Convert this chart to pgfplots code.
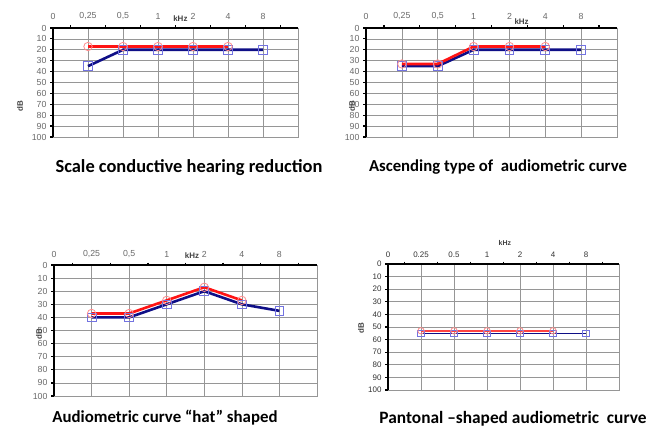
\documentclass[border=0pt]{standalone}
\usepackage{fontspec}
\setmainfont{Liberation Sans}
\newfontfamily\titlefont{Carlito}
\usepackage{pgfplots}
\pgfplotsset{compat=1.18}
\definecolor{redl}{RGB}{255,20,20}
\definecolor{redm}{RGB}{255,140,140}
\definecolor{bluel}{RGB}{15,15,135}
\definecolor{bluem}{RGB}{115,115,225}
\definecolor{gridc}{RGB}{150,150,150}
\definecolor{tickc}{RGB}{105,105,105}
\tikzset{lab/.style={font=\fontsize{8}{9}\selectfont\bfseries, text=black!75}}
\pgfplotsset{
  audio/.style={
    scale only axis,
    xmin=0, xmax=7, ymin=0, ymax=100, y dir=reverse,
    xtick={0,...,7}, xticklabels={0,{0,25},{0,5},1,2,4,8,{}},
    ytick={0,10,...,100},
    xticklabel pos=upper,
    xtick pos=right, ytick pos=left,
    grid=major,
    major grid style={gridc, line width=0.7bp},
    axis line style={gridc, line width=0.7bp},
    major x tick style={draw=none},
    minor x tick num=1,
    minor x tick style={black, line width=1.4bp},
    minor tick length=2.5bp,
    major y tick style={black, line width=1.2bp},
    major tick length=3bp,
    tick align=outside,
    tick label style={font=\fontsize{8.8}{10}\selectfont, text=tickc},
    /pgf/number format/assume math mode=true,
    clip=false,
  },
  lineR/.style={redl, line width=2.6bp, mark=none},
  lineB/.style={bluel, line width=2.6bp, mark=none},
  markR/.style={only marks, mark=o, mark size=4.2bp, mark options={draw=redm, line width=0.8bp, fill=none}},
  markB/.style={only marks, mark=square, mark size=4.4bp, mark options={draw=bluem, line width=0.8bp, fill=none}},
}
\newcommand{\frameaxes}{\draw[black, line width=1.6bp] (axis cs:0,100) -- (axis cs:0,0) -- (axis cs:7,0);}
\begin{document}
\begin{tikzpicture}[x=1bp,y=1bp]
\path[use as bounding box] (0,0) rectangle (660,427);

% Panel 1
\begin{axis}[audio, at={(53bp,290bp)}, anchor=south west, width=245bp, height=109bp,
  xticklabel style={yshift=2bp}]
\addplot[lineB] coordinates {(1,35) (2,20) (3,20) (4,20) (5,20) (6,20)};
\addplot[lineR] coordinates {(1,17) (2,17) (3,17) (4,17) (5,17)};
\addplot[markB] coordinates {(1,35) (2,20) (3,20) (4,20) (5,20) (6,20)};
\addplot[markR] coordinates {(1,17) (2,17) (3,17) (4,17) (5,17)};
\frameaxes
\node[lab] at (axis description cs:0.52,1.085) {kHz};
\node[lab, rotate=90] at (axis description cs:-0.135,0.28) {dB};
\end{axis}

% Panel 2
\begin{axis}[audio, at={(366bp,290bp)}, anchor=south west, width=251bp, height=109bp,
  xticklabel style={yshift=2bp}]
\addplot[lineB] coordinates {(1,35) (2,35) (3,20) (4,20) (5,20) (6,20)};
\addplot[lineR] coordinates {(1,33) (2,33) (3,17) (4,17) (5,17)};
\addplot[markB] coordinates {(1,35) (2,35) (3,20) (4,20) (5,20) (6,20)};
\addplot[markR] coordinates {(1,33) (2,33) (3,17) (4,17) (5,17)};
\frameaxes
\node[lab] at (axis description cs:0.62,1.06) {kHz};
\node[lab, rotate=90] at (axis description cs:-0.056,0.28) {dB};
\end{axis}

% Panel 3
\begin{axis}[audio, at={(54bp,31bp)}, anchor=south west, width=263bp, height=131bp,
  xticklabel style={yshift=1bp}]
\addplot[lineB] coordinates {(1,40) (2,40) (3,30) (4,20) (5,30) (6,35)};
\addplot[lineR] coordinates {(1,37) (2,37) (3,27) (4,17) (5,27)};
\addplot[markB] coordinates {(1,40) (2,40) (3,30) (4,20) (5,30) (6,35)};
\addplot[markR] coordinates {(1,37) (2,37) (3,27) (4,17) (5,27)};
\frameaxes
\node[lab] at (axis description cs:0.525,1.07) {kHz};
\node[lab, rotate=90] at (axis description cs:-0.057,0.47) {dB};
\end{axis}

% Panel 4
\begin{axis}[audio, at={(388bp,37bp)}, anchor=south west, width=231bp, height=126bp,
  xticklabels={0,0.25,0.5,1,2,4,8,{}},
  tick label style={font=\fontsize{8}{9}\selectfont, text=black!80},
  xticklabel style={yshift=0bp}]
\addplot[bluel, line width=1.5bp, mark=none] coordinates {(1,55) (2,55) (3,55) (4,55) (5,55) (6,55)};
\addplot[redl!80, line width=1.5bp, mark=none] coordinates {(1,53) (2,53) (3,53) (4,53) (5,53)};
\addplot[markB, mark size=3.3bp] coordinates {(1,55) (2,55) (3,55) (4,55) (5,55) (6,55)};
\addplot[markR, mark size=3.2bp] coordinates {(1,53) (2,53) (3,53) (4,53) (5,53)};
\frameaxes
\node[lab, font=\fontsize{7}{8}\selectfont\bfseries] at (axis description cs:0.506,1.167) {kHz};
\node[lab, rotate=90] at (axis description cs:-0.117,0.49) {dB};
\end{axis}

% Titles
\node[font=\titlefont\bfseries\fontsize{18.5}{21}\selectfont] at (189,259) {Scale conductive hearing reduction};
\node[font=\titlefont\bfseries\fontsize{16.8}{19}\selectfont] at (498,260) {Ascending type of\ \ audiometric curve};
\node[font=\titlefont\bfseries\fontsize{16.9}{19}\selectfont] at (165,9) {Audiometric curve “hat” shaped};
\node[font=\titlefont\bfseries\fontsize{17.4}{19}\selectfont] at (513,8) {Pantonal –shaped audiometric\ \ curve};
\end{tikzpicture}
\end{document}
